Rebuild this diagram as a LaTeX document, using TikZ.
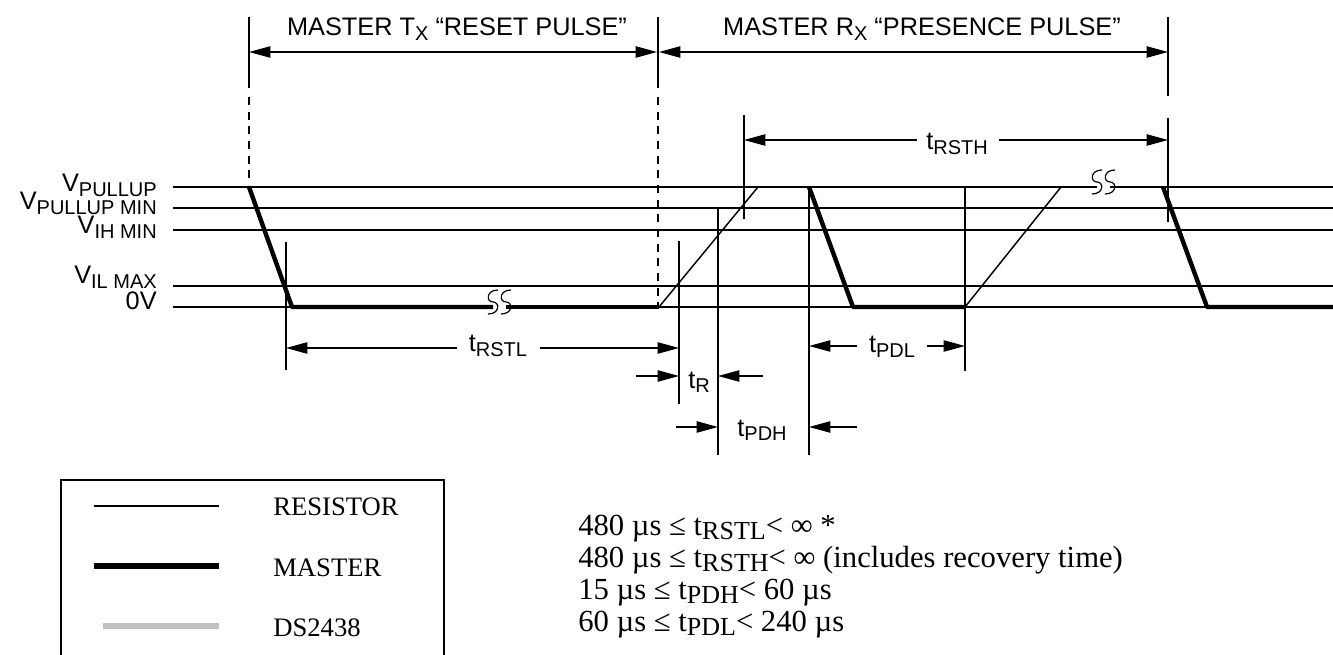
\documentclass[tikz,border=0pt]{standalone}
\usepackage{fontspec}
\setmainfont{Liberation Serif}
\newfontfamily\hv{Liberation Sans}
\usetikzlibrary{arrows.meta}
\newcommand\dsub[1]{\raisebox{-3.5pt}{\fontsize{15}{15}\selectfont #1}}
\newcommand\hsub[1]{\raisebox{-3.5pt}{\fontsize{15}{15}\selectfont #1}}
\newcommand\esub[1]{\raisebox{-3pt}{\fontsize{19.5}{19.5}\selectfont #1}}
\tikzset{
  lvl/.style={line width=1pt},
  res/.style={line width=1.1pt, line join=round},
  mst/.style={line width=3.3pt, line join=round},
  guide/.style={line width=0.9pt},
  dashguide/.style={line width=1.4pt, dash pattern=on 6pt off 5pt},
  dimarr/.style={line width=0.9pt, -{Triangle[length=16pt,width=8.5pt]}},
  dimboth/.style={line width=0.9pt, {Triangle[length=16pt,width=8.5pt]}-{Triangle[length=16pt,width=8.5pt]}},
  squig/.style={line width=0.9pt},
  tlab/.style={font=\hv\fontsize{19}{19}\selectfont, inner sep=0pt, anchor=base},
  vlab/.style={font=\hv\fontsize{19}{19}\selectfont, inner sep=0pt, anchor=base east},
  hdr/.style={font=\hv\fontsize{19}{19}\selectfont, inner sep=0pt, anchor=base},
  legtxt/.style={font=\fontsize{20}{20}\selectfont, inner sep=0pt, anchor=base west},
  eqtxt/.style={font=\fontsize{23}{23}\selectfont, inner sep=0pt, anchor=base west},
}
\begin{document}
\begin{tikzpicture}[x=0.75pt,y=-0.75pt]
\fill[white] (0,0) rectangle (1333,655);
\useasboundingbox (0,0) rectangle (1333,655);

% level lines
\draw[lvl] (173,187) -- (1097,187);
\draw[lvl] (1110,187) -- (1333,187);
\draw[lvl] (173,208) -- (1333,208);
\draw[lvl] (173,230) -- (1333,230);
\draw[lvl] (173,286) -- (1333,286);
\draw[lvl] (173,307) -- (493,307);
\draw[lvl] (506,307) -- (1333,307);

% level labels
\node[vlab] (vpu)  at (157,192) {V\dsub{PULLUP}};
\node[vlab] (vpum) at (157,210) {V\dsub{PULLUP MIN}};
\node[vlab] (vih)  at (157,234) {V\dsub{IH MIN}};
\node[vlab] (vil)  at (157,284) {V\dsub{IL MAX}};
\node[vlab] (v0)   at (157,310) {0V};

% master (thick) waveform
\draw[mst] (249,187) -- (292,307) -- (493,307);
\draw[mst] (506,307) -- (659,307);
\draw[mst] (809,187) -- (853,307) -- (965,307);
\draw[mst] (1163,187) -- (1207,307) -- (1333,307);

% resistor (thin) rising edges
\draw[res] (659,307) -- (758,187) -- (809,187);
\draw[res] (965,307) -- (1061,187) -- (1097,187);

% break marks
\foreach \cx/\cy in {493/302, 506/302, 1097/182, 1110/182}{
  \draw[squig] ({\cx+5},{\cy-12}) .. controls ({\cx-7},{\cy-12}) and ({\cx-7},{\cy}) .. (\cx,\cy)
                .. controls ({\cx+7},{\cy}) and ({\cx+7},{\cy+12}) .. ({\cx-5},{\cy+12});
}

% vertical guides
\draw[guide] (249,17) -- (249,88);
\draw[dashguide] (249,97) -- (249,185);
\draw[guide] (658,17) -- (658,88);
\draw[dashguide] (658,97) -- (658,305);
\draw[guide] (1168,17) -- (1168,96);
\draw[guide] (1168,118) -- (1168,222);
\draw[guide] (286,242) -- (286,370);
\draw[guide] (679,241) -- (679,404);
\draw[guide] (718,208) -- (718,455);
\draw[guide] (744,115) -- (744,219);
\draw[guide] (809,187) -- (809,455);
\draw[guide] (965,187) -- (965,371);

% header
\coordinate (hA) at (249,52);
\coordinate (hB) at (657,52);
\coordinate (hC) at (659,52);
\coordinate (hD) at (1168,52);
\draw[dimboth] (hA) -- (hB);
\draw[dimboth] (hC) -- (hD);
\node[hdr] (h1) at (457,36) {MASTER T\hsub{X} “RESET PULSE”};
\node[hdr] (h2) at (922,36) {MASTER R\hsub{X} “PRESENCE PULSE”};

% tRSTH
\node[tlab] (lrsth) at (957,150) {t\dsub{RSTH}};
\coordinate (rsthA) at (917,140); \coordinate (rsthB) at (744,140);
\coordinate (rsthC) at (999,140); \coordinate (rsthD) at (1168,140);
\draw[dimarr] (rsthA) -- (rsthB);
\draw[dimarr] (rsthC) -- (rsthD);

% tRSTL
\node[tlab] (lrstl) at (498,352) {t\dsub{RSTL}};
\coordinate (rstlA) at (457,348); \coordinate (rstlB) at (286,348);
\coordinate (rstlC) at (540,348); \coordinate (rstlD) at (679,348);
\draw[dimarr] (rstlA) -- (rstlB);
\draw[dimarr] (rstlC) -- (rstlD);

% tR
\node[tlab] (ltr) at (699,388) {t\dsub{R}};
\coordinate (trA) at (636,376); \coordinate (trB) at (679,376);
\coordinate (trC) at (763,376); \coordinate (trD) at (718,376);
\draw[dimarr] (trA) -- (trB);
\draw[dimarr] (trC) -- (trD);

% tPDH
\node[tlab] (lpdh) at (762,436) {t\dsub{PDH}};
\coordinate (pdhA) at (676,427); \coordinate (pdhB) at (718,427);
\coordinate (pdhC) at (857,427); \coordinate (pdhD) at (809,427);
\draw[dimarr] (pdhA) -- (pdhB);
\draw[dimarr] (pdhC) -- (pdhD);

% tPDL
\node[tlab] (lpdl) at (892,353) {t\dsub{PDL}};
\coordinate (pdlA) at (857,346); \coordinate (pdlB) at (809,346);
\coordinate (pdlC) at (927,346); \coordinate (pdlD) at (965,346);
\draw[dimarr] (pdlA) -- (pdlB);
\draw[dimarr] (pdlC) -- (pdlD);

% legend
\draw[line width=1pt] (61,660) -- (61,480) -- (444,480) -- (444,660);
\draw[line width=1pt] (94,506) -- (219,506);
\draw[line width=4.8pt] (94,566) -- (219,566);
\draw[line width=5.2pt, color={rgb,255:red,192;green,192;blue,192}] (103,626) -- (219,626);
\node[legtxt] (lg1) at (273,515) {RESISTOR};
\node[legtxt] (lg2) at (273,576) {MASTER};
\node[legtxt] (lg3) at (273,636) {DS2438};

% equations
\node[eqtxt] (e1) at (578,535) {480 µs ≤ t\esub{RSTL}< ∞ *};
\node[eqtxt] (e2) at (578,567) {480 µs ≤ t\esub{RSTH}< ∞ (includes recovery time)};
\node[eqtxt] (e3) at (578,599) {15 µs ≤ t\esub{PDH}< 60 µs};
\node[eqtxt] (e4) at (578,631) {60 µs ≤ t\esub{PDL}< 240 µs};
\end{tikzpicture}
\end{document}
